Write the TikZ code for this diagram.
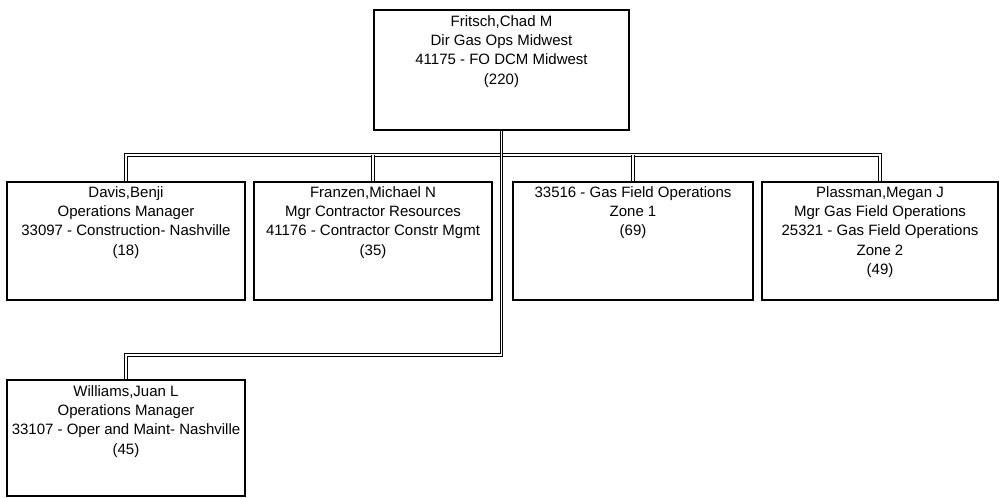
\documentclass[tikz,border=0pt]{standalone}
\usepackage{fontspec}
\setmainfont{Liberation Sans}
\usetikzlibrary{positioning}
\tikzset{
  box/.style={draw, line width=1.6pt, minimum width=238pt, minimum height=118pt, inner sep=0pt},
  txt/.style={align=center, inner sep=0pt, font=\fontsize{15}{19.3}\selectfont},
  conn/.style={double, double distance=1.3pt, line width=1pt}
}
\begin{document}
\begin{tikzpicture}[x=1pt,y=-1pt]
			\useasboundingbox (0,0) rectangle (999,498);
			\node[box, minimum width=255pt, minimum height=120pt] (fritsch) at (501.5,70) {};
			\node[box] (davis) at (126,241) {};
			\node[box] (franzen) at (373,241) {};
			\node[box, minimum width=240pt] (zone1) at (633,241) {};
			\node[box, minimum width=236pt] (plassman) at (880,241) {};
			\node[box, minimum height=116pt] (williams) at (126,438) {};
			\node[txt, below=6pt of fritsch.north] (fritsch-t) {Fritsch,Chad M\\Dir Gas Ops Midwest\\41175 - FO DCM Midwest\\(220)};
			\node[txt, below=5pt of davis.north] (davis-t) {Davis,Benji\\Operations Manager\\33097 - Construction- Nashville\\(18)};
			\node[txt, below=5pt of franzen.north] (franzen-t) {Franzen,Michael N\\Mgr Contractor Resources\\41176 - Contractor Constr Mgmt\\(35)};
			\node[txt, below=5pt of zone1.north] (zone1-t) {33516 - Gas Field Operations\\Zone 1\\(69)};
			\node[txt, below=5pt of plassman.north] (plassman-t) {Plassman,Megan J\\Mgr Gas Field Operations\\25321 - Gas Field Operations\\Zone 2\\(49)};
			\node[txt, below=6pt of williams.north] (williams-t) {Williams,Juan L\\Operations Manager\\33107 - Oper and Maint- Nashville\\(45)};
			\coordinate (bus) at (501.5,155);
			\coordinate (elbow) at (501.5,355);
			\draw[conn] (davis.north) |- (bus) -| (plassman.north);
			\draw[conn] (franzen.north) -- (franzen.north |- bus);
			\draw[conn] (zone1.north) -- (zone1.north |- bus);
			\draw[conn] (fritsch.south) -- (elbow) -| (williams.north);
\end{tikzpicture}
\end{document}
